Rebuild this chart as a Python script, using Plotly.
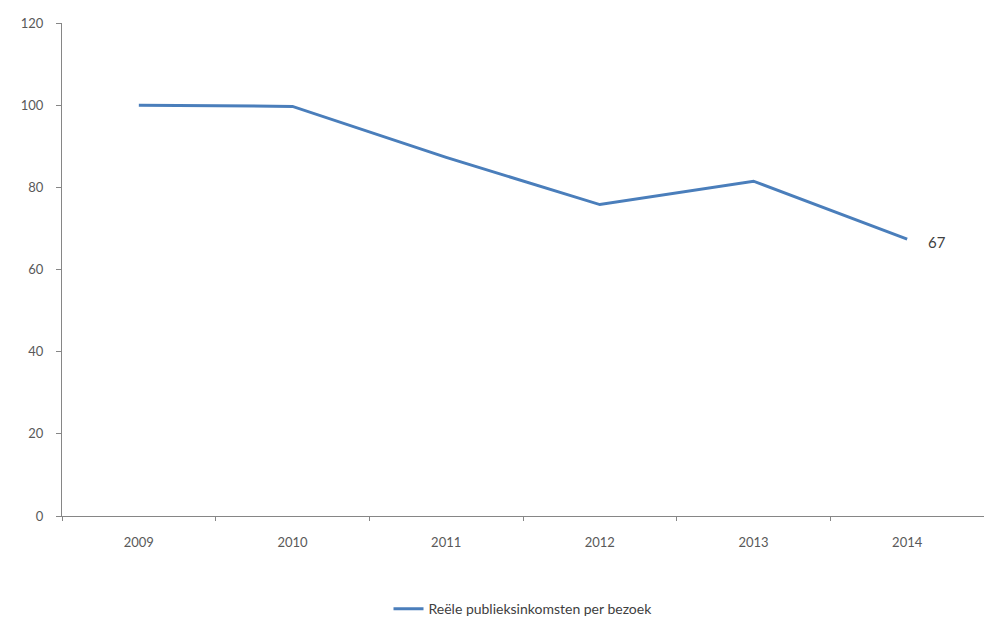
import plotly.graph_objects as go

years = ["2009", "2010", "2011", "2012", "2013", "2014"]
values = [100.0, 99.7, 87.3, 75.8, 81.5, 67.4]
series_name = "Reële publieksinkomsten per bezoek"
end_label = "67"

fig = go.Figure()
fig.add_trace(go.Scatter(
    x=years, y=values, mode="lines", name=series_name,
    line=dict(color="#4A7EBB", width=3),
))
fig.add_annotation(
    x=len(years) - 1, y=values[-1], text=end_label, showarrow=False,
    xanchor="left", yanchor="middle", xshift=19, yshift=-3,
    font=dict(size=15, color="#404040", family="Lato"),
)

fig.update_layout(
    width=984, height=621,
    margin=dict(l=62, r=0, t=23, b=105, autoexpand=False),
    paper_bgcolor="white", plot_bgcolor="white",
    font=dict(family="Lato", size=13, color="#595959"),
    showlegend=True,
    legend=dict(orientation="h", x=0.5, xanchor="center", y=-0.189, yanchor="middle",
                font=dict(size=14, color="#404040")),
)
fig.update_xaxes(
    type="category", range=[-0.5, 5.5], showline=True, linecolor="#868686", linewidth=1,
    ticks="outside", tickson="boundaries", ticklen=4, tickcolor="#868686",
    showgrid=False, zeroline=False, ticklabelstandoff=14, automargin=False,
)
fig.update_yaxes(
    range=[0, 120], dtick=20, showline=True, linecolor="#868686", linewidth=1,
    ticks="outside", ticklen=5, tickcolor="#868686",
    showgrid=False, zeroline=False, ticklabelstandoff=10, automargin=False,
)
fig.write_html(
    "out.html",
    config={"displayModeBar": False},
    post_script="document.body.style.margin='0';document.body.style.overflow='hidden';",
)
